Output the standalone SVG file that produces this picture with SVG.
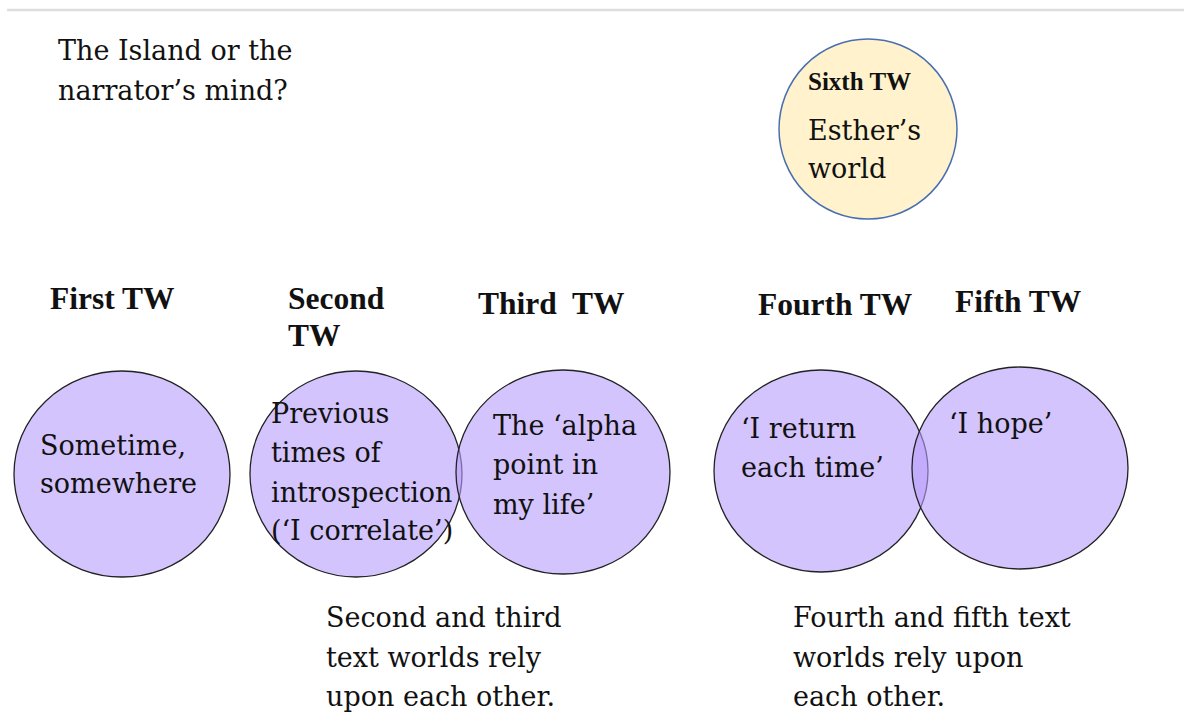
<svg xmlns="http://www.w3.org/2000/svg" width="1184" height="716" viewBox="0 0 1184 716">
<style>
.t{font-family:"DejaVu Serif","Liberation Serif",serif;font-size:27px;fill:#111}
.b{font-family:"Liberation Serif","DejaVu Serif",serif;font-size:31.5px;font-weight:bold;fill:#111}
.p{fill:rgb(184,156,252);fill-opacity:0.6;stroke:#222;stroke-width:1.3}
</style>
<rect width="1184" height="716" fill="#fff"/>
<line x1="7" y1="10" x2="1184" y2="10" stroke="#dedede" stroke-width="2.5"/>
<g id="title"><text class="t" x="58" y="60">The Island or the</text><text class="t" x="58" y="100">narrator’s mind?</text></g>
<g id="sixth">
<ellipse cx="868" cy="129" rx="89" ry="90" fill="#fff2cc" stroke="#4a6fb0" stroke-width="1.5"/>
<text class="b" x="808" y="90" style="font-size:25px">Sixth TW</text>
<text class="t" x="808" y="140">Esther’s</text><text class="t" x="808" y="178">world</text>
</g>
<g id="first">
<text class="b" x="50" y="309">First TW</text>
<ellipse class="p" cx="122" cy="474" rx="108" ry="103"/>
<text class="t" x="40" y="455">Sometime,</text><text class="t" x="40" y="493">somewhere</text>
</g>
<g id="second">
<text class="b" x="288" y="309">Second</text><text class="b" x="288" y="346">TW</text>
<ellipse class="p" cx="356" cy="474" rx="106" ry="103"/>
</g>
<g id="third">
<text class="b" x="478" y="314" xml:space="preserve">Third  TW</text>
<ellipse class="p" cx="563" cy="472" rx="107" ry="102"/>
<text class="t" x="493" y="435">The ‘alpha</text><text class="t" x="493" y="474">point in</text><text class="t" x="493" y="514">my life’</text>
</g>
<g id="second-text">
<text class="t" x="271" y="423">Previous</text><text class="t" x="271" y="462">times of</text><text class="t" x="271" y="502">introspection</text><text class="t" x="271" y="540">(‘I correlate’)</text>
</g>
<g id="fourth">
<text class="b" x="758" y="315">Fourth TW</text>
<ellipse class="p" cx="821" cy="471" rx="107" ry="101"/>
</g>
<g id="fifth">
<text class="b" x="955" y="312">Fifth TW</text>
<ellipse class="p" cx="1020" cy="468" rx="108" ry="101"/>
<text class="t" x="949" y="433">‘I hope’</text>
</g>
<g id="fourth-text"><text class="t" x="741" y="438">‘I return</text><text class="t" x="741" y="477">each time’</text></g>
<g id="notes">
<text class="t" x="326" y="627">Second and third</text><text class="t" x="326" y="667">text worlds rely</text><text class="t" x="326" y="706">upon each other.</text>
<text class="t" x="793" y="627">Fourth and fifth text</text><text class="t" x="793" y="667">worlds rely upon</text><text class="t" x="793" y="706">each other.</text>
</g>
<g id="connectors"/>
</svg>
